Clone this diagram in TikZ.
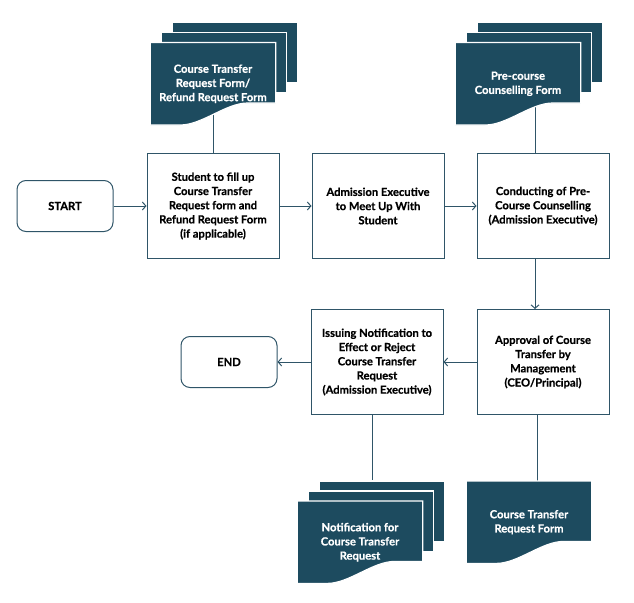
\documentclass[tikz,border=0pt]{standalone}
\usepackage{fontspec}
\setmainfont{Lato}[BoldFeatures={FakeBold=0.6}]
\usetikzlibrary{positioning, arrows.meta, backgrounds}
\definecolor{FormTeal}{HTML}{1D4B5F}
\definecolor{LineTeal}{HTML}{2F5568}

% back sheet of a form stack, shifted by (#2,#3)
\newcommand{\formback}[3]{%
  \filldraw[sheet] ([shift={(#2pt,#3pt)}]#1.north west) rectangle ([shift={(#2pt,#3pt+22pt)}]#1.south east);}
% front sheet with the wavy bottom
\newcommand{\formfront}[1]{%
  \filldraw[sheet] (#1.north west) -- (#1.north east) -- ([yshift=22pt]#1.south east)
    -- ([xshift=-28pt,yshift=22pt]#1.south east)
    .. controls ([xshift=-50pt,yshift=22pt]#1.south east) and ([xshift=52pt]#1.south west) .. ([xshift=30pt]#1.south west)
    -- (#1.south west) -- cycle;}

\begin{document}
\begin{tikzpicture}[
	x=1pt, y=1pt,
	node distance=32pt,
	stepbox/.style={
		draw=LineTeal,
		line width=1pt,
		rectangle,
		align=center,
		minimum width=132pt,
		minimum height=105pt,
		font=\bfseries\fontsize{11.2}{14.2}\selectfont
	},
	endbox/.style={
		draw=LineTeal,
		line width=1pt,
		rounded corners=9pt,
		minimum width=96pt,
		minimum height=51pt,
		font=\bfseries\fontsize{11.2}{14.2}\selectfont
	},
	formnode/.style={
		minimum width=125pt,
		minimum height=82pt,
		inner sep=0pt,
		align=center,
		text=white,
		font=\bfseries\fontsize{11.2}{14.2}\selectfont
	},
	sheet/.style={fill=FormTeal, draw=white, line width=1.2pt},
	arrow/.style={
		-{Straight Barb[length=3.5pt,width=8pt]},
		line width=1pt,
		draw=LineTeal
	},
	link/.style={draw=LineTeal, line width=1pt}
	]
	\useasboundingbox (0,0) rectangle (634,-602);
	\node[endbox] (start) at (65,-206) {START};
	\node[stepbox, right=33pt of start] (fill) {Student to fill up\\Course Transfer\\Request form and\\Refund Request Form\\(if applicable)};
	\node[stepbox, right=of fill] (meet) {Admission Executive\\to Meet Up With\\Student};
	\node[stepbox, right=of meet] (counsel) {Conducting of Pre-\\Course Counselling\\(Admission Executive)};
	\node[stepbox, below=50pt of counsel] (approve) {Approval of Course\\Transfer by\\Management\\(CEO/Principal)};
	\node[stepbox, left=33pt of approve] (issue) {Issuing Notification to\\Effect or Reject\\Course Transfer\\Request\\(Admission Executive)};
	\node[endbox, left=33pt of issue] (end) {END};
	% forms
	\node[formnode, above=28pt of fill] (crform) {Course Transfer\\Request Form/\\Refund Request Form};
	\node[formnode, above=28pt of counsel, xshift=-25pt] (pcform) {Pre-course\\Counselling Form};
	\node[formnode, below=86pt of issue, xshift=-17pt] (notform) {Notification for\\Course Transfer\\Request};
	\node[formnode, below=66pt of approve, xshift=-14pt] (ctform) {Course Transfer\\Request Form};
	% flow
	\draw[arrow] (start) -- (fill);
	\draw[arrow] (fill) -- (meet);
	\draw[arrow] (meet) -- (counsel);
	\draw[arrow] ([xshift=-8pt]counsel.south) -- ([xshift=-8pt]counsel.south |- approve.north);
	\draw[arrow] (approve) -- (issue);
	\draw[arrow] (issue) -- (end);
	\begin{scope}[on background layer]
		\draw[link] (fill.north) -- (fill.north |- crform.center);
		\draw[link] ([xshift=17pt]pcform.center) -- ([xshift=17pt]pcform.center |- counsel.north);
		\draw[link] ([xshift=12pt]notform.center) -- ([xshift=12pt]notform.center |- issue.south);
		\draw[link] ([xshift=8pt]ctform.center) -- ([xshift=8pt]ctform.center |- approve.south);
		\formback{crform}{22}{20}
		\formback{crform}{11}{10}
		\formfront{crform}
		\formback{pcform}{22}{20}
		\formback{pcform}{11}{10}
		\formfront{pcform}
		\formback{notform}{22}{20}
		\formback{notform}{11}{10}
		\formfront{notform}
		\formfront{ctform}
	\end{scope}
\end{tikzpicture}
\end{document}
